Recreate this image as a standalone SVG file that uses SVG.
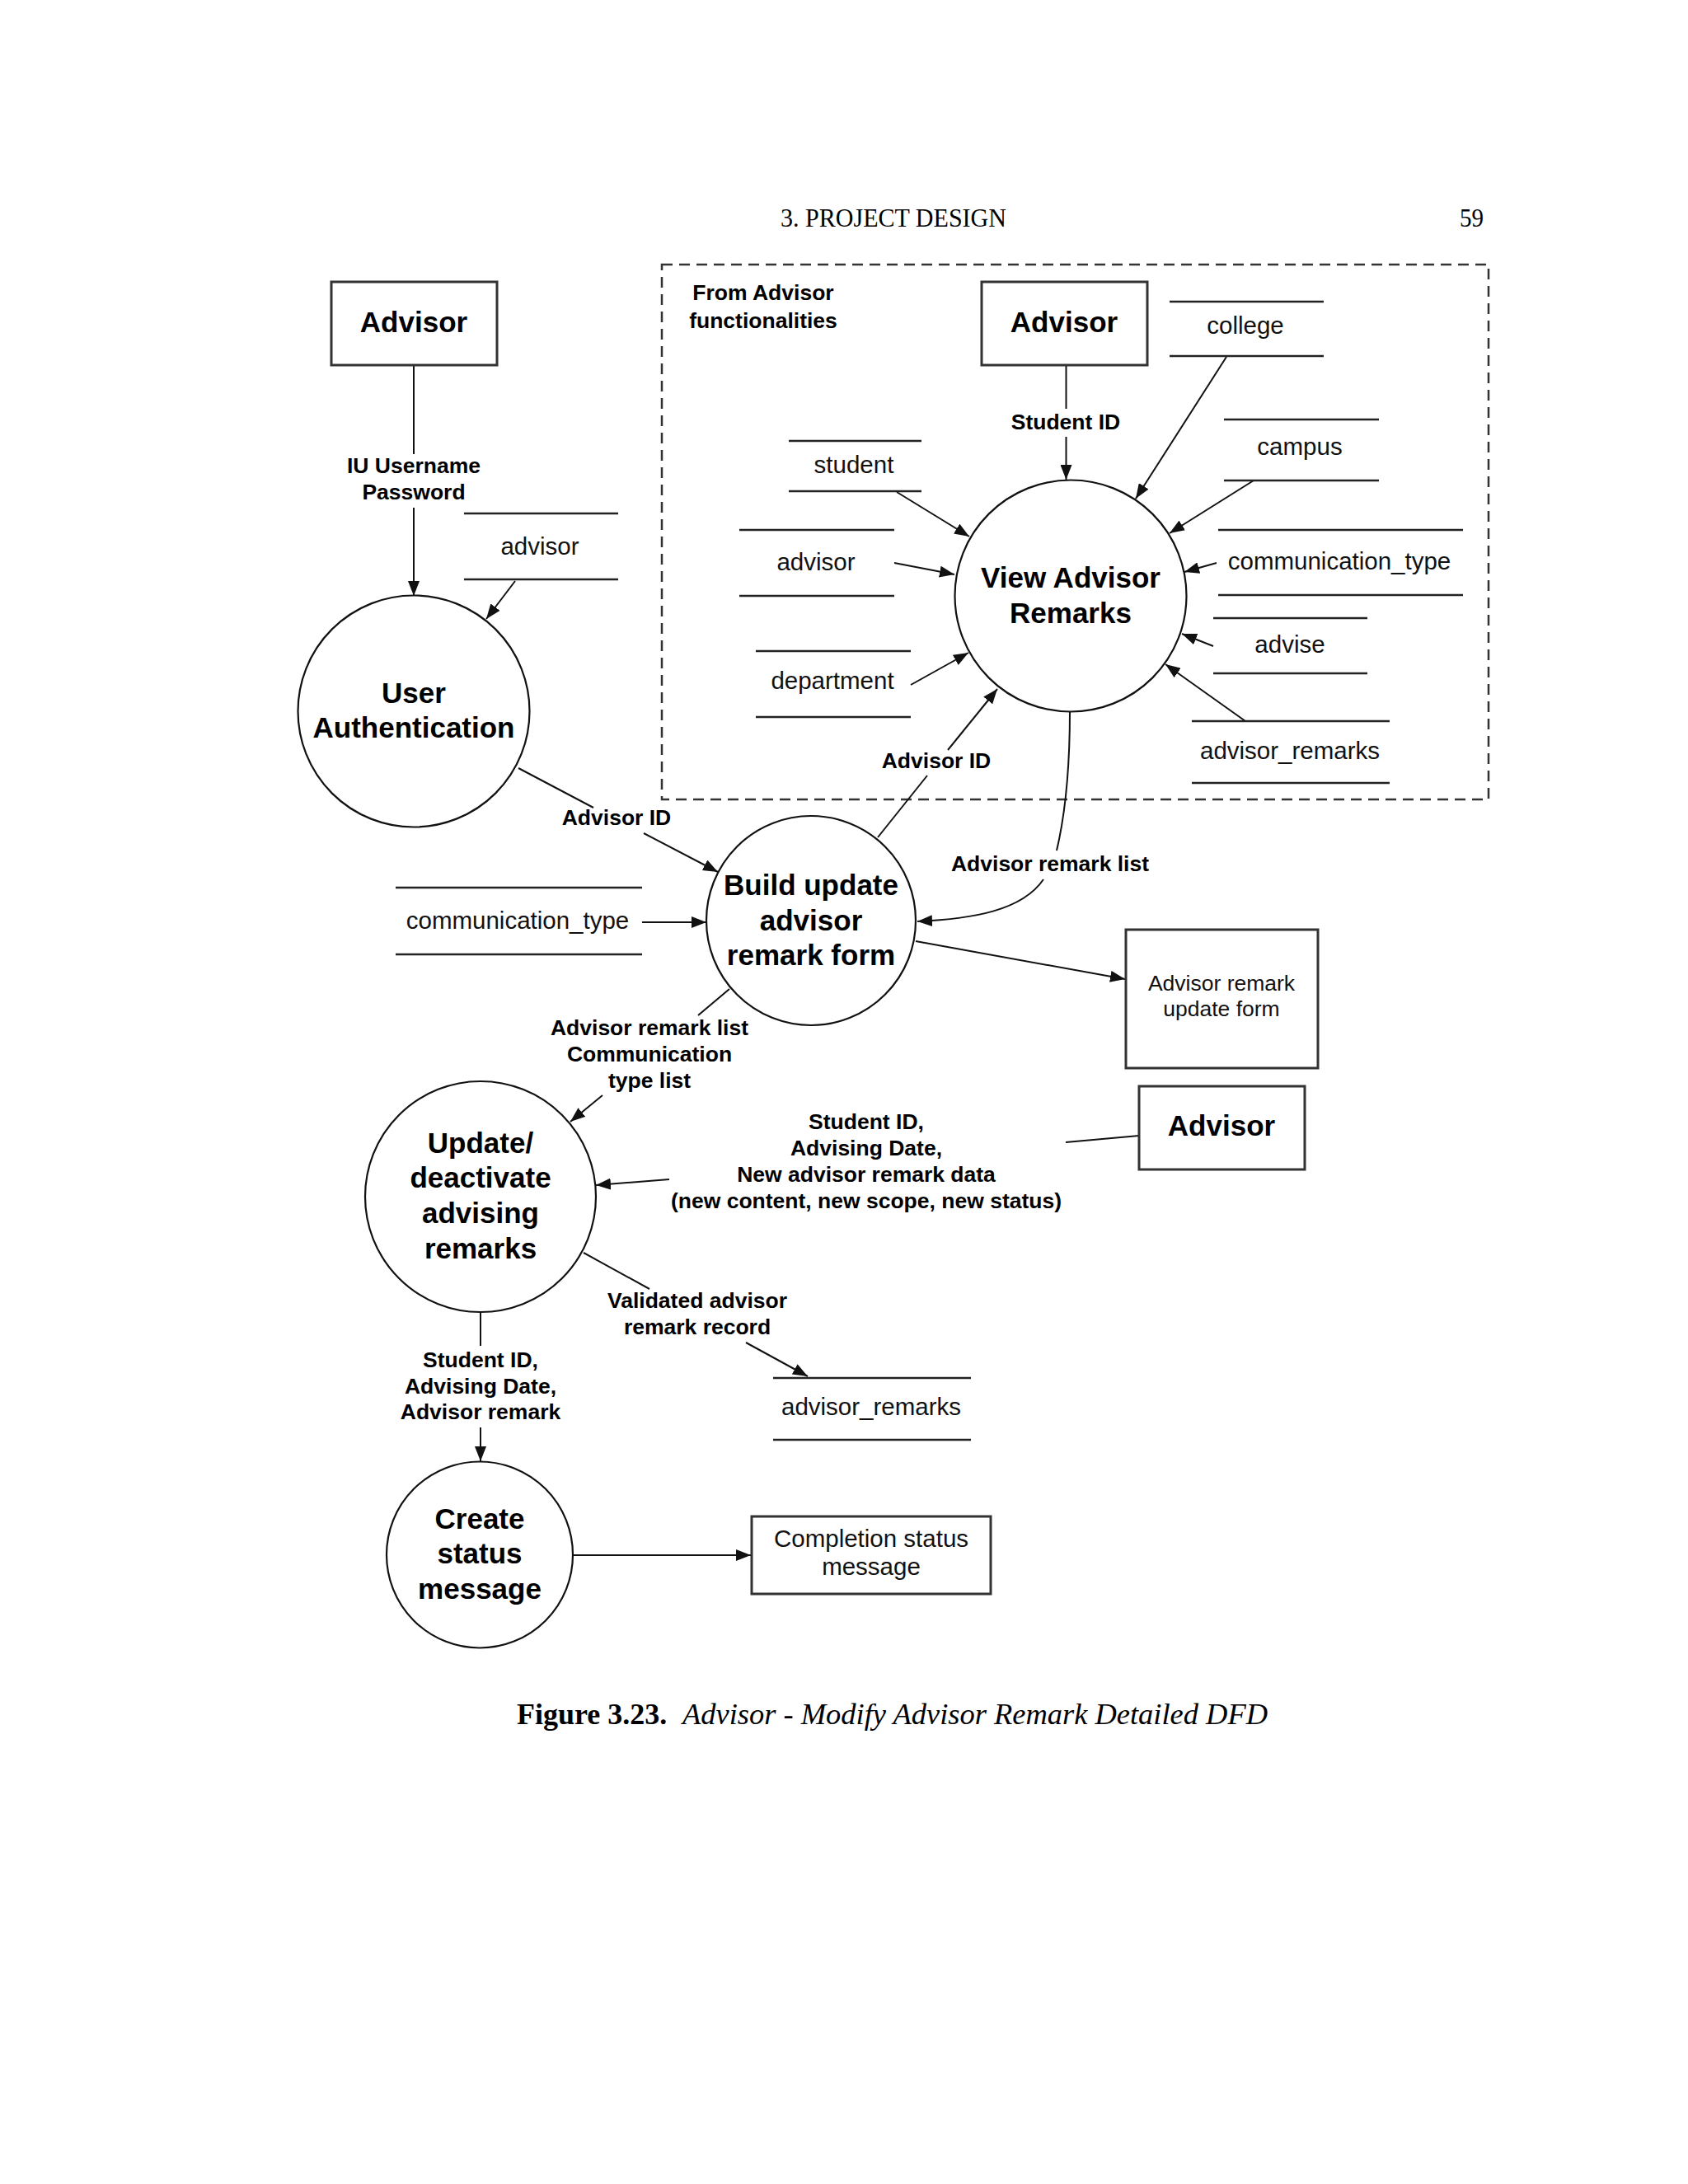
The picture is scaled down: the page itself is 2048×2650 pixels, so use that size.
<svg xmlns="http://www.w3.org/2000/svg" width="2048" height="2650" viewBox="0 0 2048 2650">
<defs>
<marker id="ah" markerUnits="userSpaceOnUse" markerWidth="18" markerHeight="14" refX="18" refY="7" orient="auto">
<path d="M0,0 L18,7 L0,14 z" fill="#111"/>
</marker>
<style>
.bg{fill:#fff}
.box{fill:#fff;stroke:#333;stroke-width:3}
.proc{fill:#fff;stroke:#111;stroke-width:2.2}
.st{stroke:#222;stroke-width:2.5;fill:none}
.ln{stroke:#111;stroke-width:2;fill:none}
.ar{stroke:#111;stroke-width:2;fill:none;marker-end:url(#ah)}
.dash{fill:none;stroke:#333;stroke-width:2.5;stroke-dasharray:13 8}
.ent{font-family:"Liberation Sans",Arial,sans-serif;font-weight:bold;font-size:35px;fill:#000;text-anchor:middle}
.pt{font-family:"Liberation Sans",Arial,sans-serif;font-weight:bold;font-size:35px;fill:#000;text-anchor:middle}
.lb{font-family:"Liberation Sans",Arial,sans-serif;font-weight:bold;font-size:26.5px;fill:#000;text-anchor:middle}
.ds{font-family:"Liberation Sans",Arial,sans-serif;font-size:29.5px;fill:#111;text-anchor:middle}
.bx{font-family:"Liberation Sans",Arial,sans-serif;font-size:26.5px;fill:#111;text-anchor:middle}
.tm{font-family:"Liberation Serif","Times New Roman",serif;fill:#000}
</style>
</defs>
<rect class="bg" x="0" y="0" width="2048" height="2650"/>

<!-- page header -->
<text class="tm" x="947" y="275" font-size="31" textLength="274" lengthAdjust="spacingAndGlyphs">3. PROJECT DESIGN</text>
<text class="tm" x="1771" y="275" font-size="31" textLength="29" lengthAdjust="spacingAndGlyphs">59</text>

<!-- dashed frame -->
<g id="frame">
<rect class="dash" x="803" y="321" width="1003" height="649"/>
<text class="lb" x="926" y="364">From Advisor</text>
<text class="lb" x="926" y="398">functionalities</text>
</g>

<!-- connectors -->
<g id="connectors">
<line class="ln" x1="502" y1="443" x2="502" y2="551"/>
<line class="ar" x1="502" y1="616" x2="502" y2="723"/>
<text class="lb" x="502" y="574">IU Username</text>
<text class="lb" x="502" y="606">Password</text>

<line class="ar" x1="625" y1="705" x2="590" y2="751"/>

<line class="ln" x1="1293.5" y1="443" x2="1293.5" y2="496"/>
<line class="ar" x1="1293.5" y1="530" x2="1293.5" y2="582"/>
<text class="lb" x="1293" y="521">Student ID</text>

<line class="ar" x1="1488" y1="433" x2="1378" y2="605"/>
<line class="ar" x1="1521" y1="583" x2="1419" y2="647"/>
<line class="ar" x1="1088" y1="597" x2="1176" y2="651"/>
<line class="ar" x1="1085" y1="683" x2="1158" y2="697"/>
<line class="ar" x1="1476" y1="683" x2="1437" y2="694"/>
<line class="ar" x1="1472" y1="784" x2="1434" y2="769"/>
<line class="ar" x1="1105" y1="831" x2="1175" y2="792"/>
<line class="ar" x1="1511" y1="875" x2="1414" y2="806"/>

<line class="ln" x1="1065" y1="1016" x2="1125" y2="941"/>
<line class="ar" x1="1150" y1="910" x2="1210" y2="836"/>
<text class="lb" x="1136" y="932">Advisor ID</text>

<path class="ln" d="M1298,863 C1298,940 1292,990 1282,1032"/>
<path class="ar" d="M1266,1067 C1240,1105 1180,1115 1113,1118"/>
<text class="lb" x="1274" y="1057">Advisor remark list</text>

<line class="ln" x1="629" y1="932" x2="720" y2="980"/>
<line class="ar" x1="781" y1="1011" x2="871" y2="1058"/>
<text class="lb" x="748" y="1001">Advisor ID</text>

<line class="ar" x1="779" y1="1119" x2="857" y2="1119"/>

<line class="ar" x1="1111" y1="1142" x2="1365" y2="1188"/>

<line class="ln" x1="885" y1="1200" x2="847" y2="1232"/>
<line class="ar" x1="731" y1="1329" x2="692" y2="1361"/>
<text class="lb" x="788" y="1256">Advisor remark list</text>
<text class="lb" x="788" y="1288">Communication</text>
<text class="lb" x="788" y="1320">type list</text>

<line class="ln" x1="1382" y1="1378" x2="1293" y2="1386"/>
<line class="ar" x1="812" y1="1431" x2="723" y2="1438"/>
<text class="lb" x="1051" y="1370">Student ID,</text>
<text class="lb" x="1051" y="1402">Advising Date,</text>
<text class="lb" x="1051" y="1434">New advisor remark data</text>
<text class="lb" x="1051" y="1466">(new content, new scope, new status)</text>

<line class="ln" x1="708" y1="1520" x2="788" y2="1564"/>
<line class="ar" x1="905" y1="1629" x2="980" y2="1670"/>
<text class="lb" x="846" y="1587">Validated advisor</text>
<text class="lb" x="846" y="1619">remark record</text>

<line class="ln" x1="583" y1="1592" x2="583" y2="1633"/>
<line class="ar" x1="583" y1="1732" x2="583" y2="1773"/>
<text class="lb" x="583" y="1659">Student ID,</text>
<text class="lb" x="583" y="1691">Advising Date,</text>
<text class="lb" x="583" y="1722">Advisor remark</text>

<line class="ar" x1="695" y1="1887" x2="911" y2="1887"/>
</g>

<!-- external entities -->
<g id="advisor-1">
<rect class="box" x="402" y="342" width="201" height="101"/>
<text class="ent" x="502" y="403">Advisor</text>
</g>
<g id="advisor-2">
<rect class="box" x="1191" y="342" width="201" height="101"/>
<text class="ent" x="1291" y="403">Advisor</text>
</g>
<g id="advisor-3">
<rect class="box" x="1382" y="1318" width="201" height="101"/>
<text class="ent" x="1482" y="1378">Advisor</text>
</g>
<g id="update-form">
<rect class="box" x="1366" y="1128" width="233" height="168"/>
<text class="bx" x="1482" y="1202">Advisor remark</text>
<text class="bx" x="1482" y="1233">update form</text>
</g>
<g id="completion-msg">
<rect class="box" x="912" y="1840" width="290" height="94"/>
<text class="ds" x="1057" y="1877">Completion status</text>
<text class="ds" x="1057" y="1911">message</text>
</g>

<!-- data stores -->
<g id="store-advisor-left">
<line class="st" x1="563" y1="623" x2="750" y2="623"/>
<line class="st" x1="563" y1="703" x2="750" y2="703"/>
<text class="ds" x="655" y="673">advisor</text>
</g>
<g id="store-college">
<line class="st" x1="1419" y1="366" x2="1606" y2="366"/>
<line class="st" x1="1419" y1="432" x2="1606" y2="432"/>
<text class="ds" x="1511" y="405">college</text>
</g>
<g id="store-campus">
<line class="st" x1="1485" y1="509" x2="1673" y2="509"/>
<line class="st" x1="1485" y1="583" x2="1673" y2="583"/>
<text class="ds" x="1577" y="552">campus</text>
</g>
<g id="store-student">
<line class="st" x1="957" y1="535" x2="1118" y2="535"/>
<line class="st" x1="957" y1="596" x2="1118" y2="596"/>
<text class="ds" x="1036" y="574">student</text>
</g>
<g id="store-advisor-mid">
<line class="st" x1="897" y1="643" x2="1085" y2="643"/>
<line class="st" x1="897" y1="723" x2="1085" y2="723"/>
<text class="ds" x="990" y="692">advisor</text>
</g>
<g id="store-commtype-top">
<line class="st" x1="1478" y1="643" x2="1775" y2="643"/>
<line class="st" x1="1478" y1="722" x2="1775" y2="722"/>
<text class="ds" x="1625" y="691">communication_type</text>
</g>
<g id="store-advise">
<line class="st" x1="1472" y1="750" x2="1659" y2="750"/>
<line class="st" x1="1472" y1="817" x2="1659" y2="817"/>
<text class="ds" x="1565" y="792">advise</text>
</g>
<g id="store-department">
<line class="st" x1="917" y1="790" x2="1105" y2="790"/>
<line class="st" x1="917" y1="870" x2="1105" y2="870"/>
<text class="ds" x="1010" y="836">department</text>
</g>
<g id="store-remarks-top">
<line class="st" x1="1446" y1="875" x2="1686" y2="875"/>
<line class="st" x1="1446" y1="950" x2="1686" y2="950"/>
<text class="ds" x="1565" y="921">advisor_remarks</text>
</g>
<g id="store-commtype-left">
<line class="st" x1="480" y1="1077" x2="779" y2="1077"/>
<line class="st" x1="480" y1="1158" x2="779" y2="1158"/>
<text class="ds" x="628" y="1127">communication_type</text>
</g>
<g id="store-remarks-bottom">
<line class="st" x1="938" y1="1672" x2="1178" y2="1672"/>
<line class="st" x1="938" y1="1747" x2="1178" y2="1747"/>
<text class="ds" x="1057" y="1717">advisor_remarks</text>
</g>

<!-- processes -->
<g id="proc-user-auth">
<circle class="proc" cx="502" cy="863" r="140.5"/>
<text class="pt" x="502" y="853">User</text>
<text class="pt" x="502" y="895">Authentication</text>
</g>
<g id="proc-view-remarks">
<circle class="proc" cx="1299" cy="723" r="140.5"/>
<text class="pt" x="1299" y="713">View Advisor</text>
<text class="pt" x="1299" y="756">Remarks</text>
</g>
<g id="proc-build-form">
<circle class="proc" cx="984" cy="1117" r="127"/>
<text class="pt" x="984" y="1086">Build update</text>
<text class="pt" x="984" y="1129">advisor</text>
<text class="pt" x="984" y="1171">remark form</text>
</g>
<g id="proc-update">
<circle class="proc" cx="583" cy="1452" r="140"/>
<text class="pt" x="583" y="1399">Update/</text>
<text class="pt" x="583" y="1441">deactivate</text>
<text class="pt" x="583" y="1484">advising</text>
<text class="pt" x="583" y="1527">remarks</text>
</g>
<g id="proc-create-msg">
<circle class="proc" cx="582" cy="1886.5" r="113"/>
<text class="pt" x="582" y="1855">Create</text>
<text class="pt" x="582" y="1897">status</text>
<text class="pt" x="582" y="1940">message</text>
</g>

<!-- caption -->
<text class="tm" x="627" y="2092" font-size="36"><tspan font-weight="bold">Figure 3.23.</tspan><tspan x="828" font-style="italic" textLength="710" lengthAdjust="spacingAndGlyphs">Advisor - Modify Advisor Remark Detailed DFD</tspan></text>
</svg>
